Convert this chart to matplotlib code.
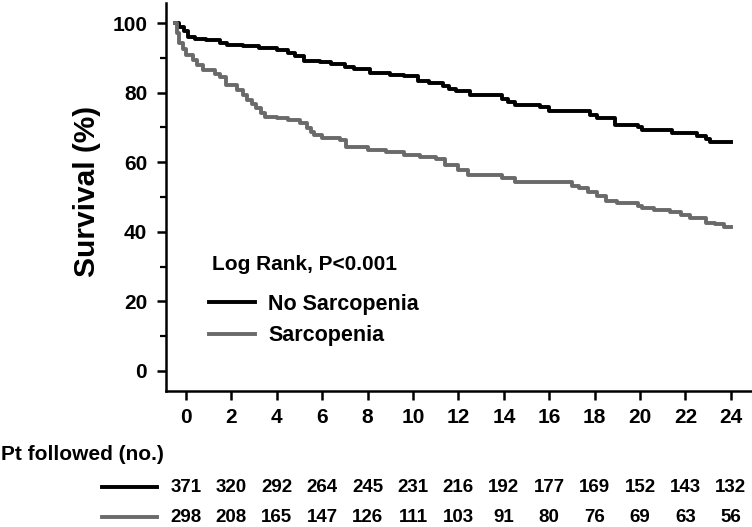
import matplotlib
matplotlib.use("Agg")
import matplotlib.pyplot as plt
from matplotlib.lines import Line2D
from matplotlib.ticker import MultipleLocator
import matplotlib.transforms as mtransforms

plt.rcParams['font.family'] = ['Liberation Sans', 'DejaVu Sans']
plt.rcParams['font.weight'] = 'bold'

# ---- data ----
groups = ["No Sarcopenia", "Sarcopenia"]
colors = ["#000000", "#6a6a6a"]

t_no = [-0.5, -0.3, -0.1, 0.1, 0.4, 0.9, 1.5, 1.8, 2.5, 3.2, 4.0, 4.5, 4.8, 5.2, 5.9,
        6.4, 7.0, 7.4, 8.1, 9.0, 9.6, 10.2, 10.7, 11.3, 11.6, 11.9, 12.5, 13.9, 14.2,
        14.5, 15.6, 16.0, 17.8, 18.1, 18.9, 19.9, 20.1, 21.4, 22.5, 22.9, 23.1, 24.0]
s_no = [100, 98.8, 97.6, 96.0, 95.4, 95.0, 94.3, 93.7, 93.3, 92.8, 92.2, 91.4, 90.4, 89.2, 88.8,
        88.2, 87.4, 86.8, 85.6, 85.2, 84.7, 83.4, 82.8, 81.8, 81.0, 80.4, 79.3, 78.3, 77.2,
        76.4, 75.8, 74.8, 73.6, 72.6, 70.8, 70.0, 69.3, 68.3, 67.6, 66.6, 65.9, 65.9]

t_sa = [-0.5, -0.4, -0.3, -0.15, 0.0, 0.3, 0.5, 0.75, 1.3, 1.5, 1.75, 2.25, 2.5, 2.7, 2.9,
        3.1, 3.3, 3.5, 4.0, 4.5, 5.0, 5.35, 5.5, 5.65, 6.0, 6.8, 7.05, 8.0, 8.8, 9.6, 10.3,
        11.0, 11.4, 12.0, 12.4, 13.9, 14.5, 17.0, 17.3, 17.7, 18.1, 18.5, 19.0, 19.9, 20.1,
        20.6, 21.3, 21.8, 22.2, 22.9, 23.3, 23.7, 24.0]
s_sa = [100, 97.0, 94.2, 92.5, 90.8, 89.4, 88.0, 86.5, 85.4, 84.4, 82.2, 80.7, 79.2, 77.8, 76.6,
        75.5, 74.2, 73.1, 72.6, 72.0, 71.4, 69.8, 68.8, 67.8, 66.9, 66.4, 64.3, 63.6, 62.8, 62.2,
        61.6, 60.8, 59.2, 57.8, 56.4, 55.6, 54.3, 53.2, 52.5, 51.5, 50.2, 48.8, 48.2, 47.4,
        46.8, 46.3, 45.8, 44.9, 43.9, 42.6, 42.1, 41.4, 41.3]

x_ticks = list(range(0, 25, 2))
y_ticks = [0, 20, 40, 60, 80, 100]
at_risk_no = [371, 320, 292, 264, 245, 231, 216, 192, 177, 169, 152, 143, 132]
at_risk_sa = [298, 208, 165, 147, 126, 111, 103, 91, 80, 76, 69, 63, 56]

W, H = 752, 527
fig = plt.figure(figsize=(W / 100, H / 100), dpi=100)
ax = fig.add_axes([166 / W, (H - 391) / H, (W - 166) / W, (391 - 3) / H])

lw = 2.8
ax.plot(t_no, s_no, drawstyle="steps-post", color=colors[0], lw=lw)
ax.plot(t_sa, s_sa, drawstyle="steps-post", color=colors[1], lw=lw)

ax.set_xlim(-0.88, 24.93)
ax.set_ylim(-5.75, 105.75)
ax.set_xticks(x_ticks)
ax.set_yticks(y_ticks)
ax.yaxis.set_minor_locator(MultipleLocator(10))

for sp in ["top", "right"]:
    ax.spines[sp].set_visible(False)
for sp in ["left", "bottom"]:
    ax.spines[sp].set_linewidth(1.8)

ax.tick_params(axis="both", which="major", direction="out", length=6.5, width=1.8,
               labelsize=15)
ax.tick_params(axis="y", which="minor", direction="out", length=4, width=1.6)
ax.tick_params(axis="x", which="major", pad=6)
ax.tick_params(axis="y", which="major", pad=7)
for lab in ax.get_xticklabels() + ax.get_yticklabels():
    lab.set_fontweight("bold")

fig.text(87 / W, (H - 191) / H, "Survival (%)", rotation=90, ha="center", va="center",
         fontsize=21.5, fontweight="bold")

# annotation and legend
fig.text(212 / W, (H - 264) / H, "Log Rank, P<0.001", ha="left", va="center",
         fontsize=15, fontweight="bold")
handles = [Line2D([0], [0], color=c, lw=lw) for c in colors]
leg = fig.legend(handles, groups, loc="upper left", bbox_to_anchor=(209 / W, (H - 294) / H),
                 frameon=False, borderpad=0, borderaxespad=0, handlelength=2.15,
                 handletextpad=0.6, labelspacing=0.48,
                 prop={"size": 15.5, "weight": "bold"})

# number at risk table
fig.text(1 / W, (H - 455) / H, "Pt followed (no.)", ha="left", va="center",
         fontsize=15, fontweight="bold")
trans = mtransforms.blended_transform_factory(ax.transData, fig.transFigure)
for row_y, counts, c in [(487, at_risk_no, colors[0]), (517, at_risk_sa, colors[1])]:
    yf = (H - row_y) / H
    fig.add_artist(Line2D([102 / W, 157 / W], [yf, yf], color=c, lw=lw,
                          transform=fig.transFigure))
    for xv, n in zip(x_ticks, counts):
        ax.text(xv, yf, str(n), transform=trans, ha="center", va="center",
                fontsize=13.5, fontweight="bold", clip_on=False)

fig.savefig("out.png", dpi=100)
